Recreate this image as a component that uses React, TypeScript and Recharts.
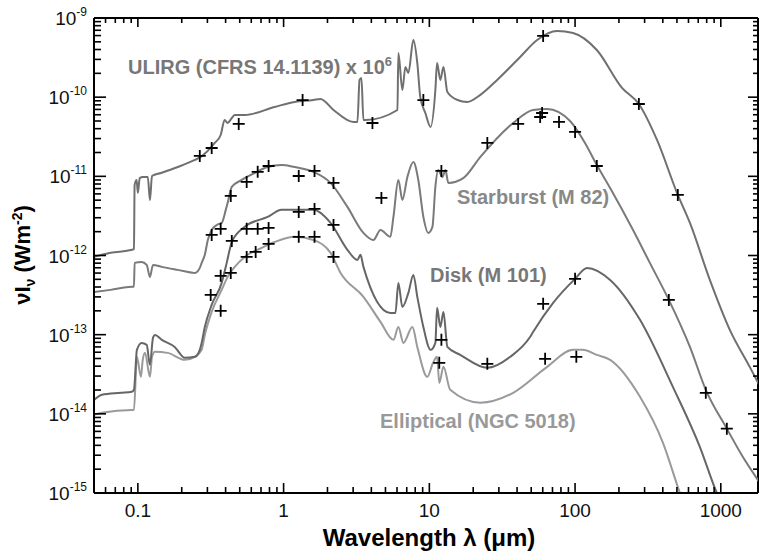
import { ComposedChart, Line, Scatter, XAxis, YAxis, ReferenceLine } from 'recharts'

const W = 760
const H = 554
const PLOT = { left: 94, top: 18, right: 758, bottom: 493 }
const FONT = '"Liberation Sans", Arial, Helvetica, sans-serif'
const AXIS_SIZE = 20

// wavelength (um), nu*I_nu (W m^-2)
const ulirgSed = [
  [0.05, 9.6e-13], [0.065, 1.08e-12], [0.091, 1.18e-12], [0.094, 1.21e-12], [0.095, 7.8e-12],
  [0.098, 9.0e-12], [0.1, 6.2e-12], [0.103, 9.5e-12], [0.108, 9.8e-12], [0.117, 9.8e-12],
  [0.121, 5.0e-12], [0.125, 1.01e-11], [0.144, 1.1e-11], [0.188, 1.31e-11], [0.246, 1.61e-11],
  [0.27, 1.76e-11], [0.337, 2.64e-11], [0.37, 3.33e-11], [0.394, 5.15e-11], [0.413, 4.72e-11],
  [0.441, 5.46e-11], [0.462, 5.95e-11], [0.541, 5.95e-11], [0.867, 7.52e-11], [1.19, 8.7e-11],
  [1.6, 9.2e-11], [1.79, 9.5e-11], [2.2, 6.89e-11], [3.01, 4.86e-11], [3.21, 4.86e-11],
  [3.32, 1.65e-10], [3.42, 1.75e-10], [3.53, 5.15e-11], [3.65, 5.15e-11], [6.04, 6.89e-11],
  [6.13, 3.61e-10], [6.53, 1.23e-10], [6.85, 2.41e-10], [7.18, 2.02e-10], [7.77, 5.27e-10],
  [8.27, 2.7e-10], [8.67, 1.0e-10], [9.39, 6.31e-11], [10.2, 4.21e-11], [11.0, 1.23e-10],
  [11.3, 2.7e-10], [11.9, 1.65e-10], [12.5, 2.41e-10], [13.3, 1.16e-10], [15.6, 9.2e-11],
  [18.2, 8.7e-11], [22.4, 1.07e-10], [29.2, 1.65e-10], [42, 3.22e-10], [54.9, 5.27e-10],
  [75.3, 6.86e-10], [96.9, 6.47e-10], [141, 3.94e-10], [210, 1.31e-10], [274, 8.2e-11],
  [365, 2.88e-11], [507, 5.82e-12], [614, 2.58e-12], [841, 4.92e-13], [1153, 1.15e-13],
  [1580, 3.92e-14], [2167, 1.3e-14],
]

const starburstSed = [
  [0.05, 3.47e-13], [0.065, 3.68e-13], [0.091, 4.02e-13], [0.094, 4.02e-13], [0.095, 8.07e-13],
  [0.106, 8.3e-13], [0.115, 7.6e-13], [0.121, 5.37e-13], [0.127, 7.6e-13], [0.146, 7.18e-13],
  [0.188, 6.58e-13], [0.246, 6.03e-13], [0.266, 6.97e-13], [0.274, 8.07e-13], [0.288, 1.02e-12],
  [0.302, 1.57e-12], [0.321, 2.1e-12], [0.348, 2.43e-12], [0.376, 2.58e-12], [0.401, 3.77e-12],
  [0.413, 4.62e-12], [0.441, 7.35e-12], [0.516, 9.0e-12], [0.633, 1.1e-11], [0.777, 1.31e-11],
  [0.969, 1.39e-11], [1.19, 1.31e-11], [1.6, 1.14e-11], [2.1, 8.26e-12], [2.74, 4.11e-12],
  [3.53, 1.93e-12], [4.13, 1.57e-12], [4.62, 2.1e-12], [5.4, 1.72e-12], [5.67, 3.07e-12],
  [6.13, 9.0e-12], [6.53, 5.04e-12], [7.07, 9.8e-12], [7.77, 1.52e-11], [8.4, 9.0e-12],
  [9.1, 3.07e-12], [9.84, 1.93e-12], [10.5, 2.3e-12], [11.0, 7.35e-12], [11.5, 1.2e-11],
  [12.3, 9.8e-12], [12.9, 1.2e-11], [13.5, 8.26e-12], [17.1, 9.5e-12], [22.4, 1.76e-11],
  [37.6, 4.72e-11], [51.5, 6.89e-11], [64.3, 7.1e-11], [92.4, 5.0e-11], [117, 2.64e-11],
  [141, 1.39e-11], [174, 7.14e-12], [250, 2.1e-12], [326, 8.07e-13], [440, 2.75e-13],
  [614, 7.0e-14], [789, 2.01e-14], [1100, 6.5e-15], [1415, 2.87e-15], [1850, 1.35e-15],
  [2344, 7.1e-16],
]

const diskSed = [
  [0.05, 1.5e-14], [0.0567, 1.74e-14], [0.0765, 1.84e-14], [0.091, 1.9e-14], [0.094, 2.01e-14],
  [0.0985, 6.43e-14], [0.106, 7.87e-14], [0.115, 7.43e-14], [0.121, 4.16e-14], [0.127, 9.1e-14],
  [0.131, 9.9e-14], [0.146, 8.6e-14], [0.179, 7.0e-14], [0.21, 5.1e-14], [0.246, 5.25e-14],
  [0.266, 6.43e-14], [0.274, 7.87e-14], [0.288, 1.25e-13], [0.321, 2.38e-13], [0.376, 4.51e-13],
  [0.407, 8.07e-13], [0.441, 1.48e-12], [0.541, 2.3e-12], [0.777, 3.07e-12], [0.969, 3.77e-12],
  [1.19, 3.77e-12], [1.6, 3.77e-12], [2.1, 2.58e-12], [2.74, 1.18e-12], [3.21, 8.8e-13],
  [3.37, 1.02e-12], [3.53, 7.18e-13], [5.4, 1.88e-13], [5.85, 1.88e-13], [6.13, 4.51e-13],
  [6.53, 2.24e-13], [7.18, 3.37e-13], [7.77, 5.69e-13], [8.27, 3.0e-13], [9.1, 1.25e-13],
  [10.2, 6.43e-14], [11.0, 7.87e-14], [11.3, 2.18e-13], [11.9, 1.25e-13], [12.5, 1.94e-13],
  [13.3, 7.0e-14], [16.3, 5.56e-14], [25, 3.81e-14], [35.9, 5.25e-14], [49.2, 9.4e-14],
  [51.5, 1.08e-13], [70.7, 2.52e-13], [100, 5.07e-13], [121, 6.97e-13], [174, 4.92e-13],
  [279, 1.54e-13], [469, 2.19e-14], [718, 3.83e-15], [939, 1.0e-15], [1153, 4.6e-16],
]

const ellipticalSed = [
  [0.05, 9.7e-15], [0.0567, 1.03e-14], [0.091, 1.12e-14], [0.094, 1.12e-14], [0.0985, 5.25e-14],
  [0.105, 2.93e-14], [0.108, 4.81e-14], [0.112, 5.89e-14], [0.121, 2.93e-14], [0.125, 5.25e-14],
  [0.131, 6.07e-14], [0.16, 5.89e-14], [0.21, 4.81e-14], [0.246, 5.25e-14], [0.274, 6.43e-14],
  [0.288, 9.9e-14], [0.321, 1.94e-13], [0.376, 3.68e-13], [0.413, 5.37e-13], [0.462, 7.18e-13],
  [0.541, 9.6e-13], [0.707, 1.25e-12], [0.867, 1.48e-12], [1.19, 1.72e-12], [1.6, 1.57e-12],
  [2.1, 1.08e-12], [2.46, 6.03e-13], [3.53, 3.0e-13], [4.62, 1.45e-13], [5.67, 8.6e-14],
  [6.13, 1.25e-13], [6.64, 7.87e-14], [7.65, 1.25e-13], [8.27, 7.0e-14], [9.69, 2.93e-14],
  [10.6, 4.41e-14], [11.3, 5.25e-14], [11.7, 2.46e-14], [12.5, 3.92e-14], [13.9, 2.01e-14],
  [22.4, 1.38e-14], [37.6, 1.84e-14], [64.3, 3.92e-14], [96.9, 6.43e-14], [113, 6.43e-14],
  [141, 5.56e-14], [174, 4.81e-14], [279, 1.64e-14], [401, 4.3e-15], [524, 1.0e-15],
  [614, 4.6e-16],
]

// photometry points (+)
const ulirgPhot = [
  [0.266, 1.81e-11], [0.321, 2.28e-11], [0.492, 4.59e-11], [1.35, 9.2e-11], [4.07, 4.72e-11],
  [9.1, 9.2e-11], [60.4, 5.93e-10], [274, 8.2e-11], [507, 5.82e-12],
]
const starburstPhot = [
  [0.321, 1.82e-12], [0.37, 2.17e-12], [0.434, 5.66e-12], [0.558, 8.5e-12], [0.664, 1.14e-11],
  [0.789, 1.35e-11], [1.27, 1.01e-11], [1.63, 1.17e-11], [2.2, 8.26e-12], [4.69, 5.34e-12],
  [12.1, 1.17e-11], [25, 2.64e-11], [40.7, 4.59e-11], [57.6, 5.62e-11], [59.4, 6.31e-11],
  [77.6, 4.86e-11], [100, 3.64e-11], [141, 1.35e-11], [440, 2.75e-13], [789, 1.84e-14],
  [1100, 6.5e-15],
]
const diskPhot = [
  [0.316, 3.18e-13], [0.37, 5.53e-13], [0.441, 1.53e-12], [0.558, 2.17e-12], [0.664, 2.17e-12],
  [0.789, 2.23e-12], [1.27, 3.55e-12], [1.63, 3.88e-12], [2.2, 2.43e-12], [12.1, 8.6e-14],
  [25, 4.28e-14], [60.4, 2.45e-13], [100, 5.07e-13],
]
const ellipticalPhot = [
  [0.37, 2.0e-13], [0.434, 6.03e-13], [0.558, 9.6e-13], [0.643, 1.11e-12], [0.789, 1.4e-12],
  [1.27, 1.72e-12], [1.63, 1.72e-12], [2.2, 9.6e-13], [11.7, 4.41e-14], [62.3, 4.95e-14],
  [102, 5.25e-14],
]

const xMajor = [0.1, 1, 10, 100, 1000]
const xLabels = ['0.1', '1', '10', '100', '1000']
const yMajor = [1e-15, 1e-14, 1e-13, 1e-12, 1e-11, 1e-10, 1e-9]
const yExponents = ['-15', '-14', '-13', '-12', '-11', '-10', '-9']

const minorsBetween = (majors: number[], lo: number, hi: number) => {
  const out: number[] = []
  for (const m of [majors[0] / 10, ...majors]) {
    for (let k = 2; k <= 9; k++) {
      const v = m * k
      if (v > lo && v < hi) out.push(v)
    }
  }
  return out
}

const X_DOMAIN = [0.05, 1800]
const Y_DOMAIN = [1e-15, 1e-9]
const xTicks = [...xMajor, ...minorsBetween(xMajor, X_DOMAIN[0], X_DOMAIN[1])]
const yTicks = [...yMajor, ...minorsBetween(yMajor.slice(1), Y_DOMAIN[0], Y_DOMAIN[1])]

const toRows = (pairs: number[][]) => pairs.map(([w, v]) => ({ w, v }))

function XTick(props: any) {
  const { x, payload } = props
  const i = xMajor.indexOf(payload.value)
  const major = i >= 0
  return (
    <g>
      <line x1={x} x2={x} y1={PLOT.bottom} y2={PLOT.bottom - (major ? 10 : 6)} stroke="#000" strokeWidth={1.6} />
      <line x1={x} x2={x} y1={PLOT.top} y2={PLOT.top + (major ? 9 : 5)} stroke="#000" strokeWidth={1.6} />
      {major && (
        <text x={x} y={PLOT.bottom + 24} textAnchor="middle" fontSize={19} fill="#111" fontFamily={FONT}>
          {xLabels[i]}
        </text>
      )}
    </g>
  )
}

function YTick(props: any) {
  const { y, payload } = props
  const i = yMajor.indexOf(payload.value)
  const major = i >= 0
  return (
    <g>
      <line x1={PLOT.left} x2={PLOT.left + (major ? 12 : 7)} y1={y} y2={y} stroke="#000" strokeWidth={1.6} />
      <line x1={PLOT.right} x2={PLOT.right - (major ? 10 : 5)} y1={y} y2={y} stroke="#000" strokeWidth={1.6} />
      {major && (
        <text x={PLOT.left - 7} y={y + 7} textAnchor="end" fontSize={19} fill="#111" fontFamily={FONT}>
          10<tspan dy={-9} fontSize={12}>{yExponents[i]}</tspan>
        </text>
      )}
    </g>
  )
}

function Cross(props: any) {
  const { cx, cy } = props
  if (cx == null || cy == null) return null
  return <path d={`M${cx - 6},${cy}H${cx + 6}M${cx},${cy - 6}V${cy + 6}`} stroke="#000" strokeWidth={1.8} fill="none" />
}

const series = [
  { name: 'Elliptical', line: ellipticalSed, phot: ellipticalPhot, color: '#9a9a9a' },
  { name: 'Disk', line: diskSed, phot: diskPhot, color: '#666666' },
  { name: 'Starburst', line: starburstSed, phot: starburstPhot, color: '#7a7a7a' },
  { name: 'ULIRG', line: ulirgSed, phot: ulirgPhot, color: '#707070' },
]

export default function App() {
  return (
    <div style={{ position: 'absolute', left: 0, top: 0, width: W, height: H, background: '#fff' }}>
      <ComposedChart
        width={W}
        height={H}
        margin={{
          top: PLOT.top,
          left: PLOT.left - AXIS_SIZE,
          right: W - PLOT.right,
          bottom: H - PLOT.bottom - AXIS_SIZE,
        }}
      >
        <XAxis
          dataKey="w"
          type="number"
          scale="log"
          domain={X_DOMAIN}
          allowDataOverflow
          ticks={xTicks}
          interval={0}
          tick={<XTick />}
          tickLine={false}
          height={AXIS_SIZE}
          axisLine={{ stroke: '#000', strokeWidth: 2 }}
        />
        <YAxis
          type="number"
          scale="log"
          domain={Y_DOMAIN}
          allowDataOverflow
          ticks={yTicks}
          interval={0}
          tick={<YTick />}
          tickLine={false}
          width={AXIS_SIZE}
          axisLine={{ stroke: '#000', strokeWidth: 2 }}
        />
        <ReferenceLine y={1e-9} stroke="#000" strokeWidth={2} ifOverflow="visible" />
        <ReferenceLine x={1800} stroke="#000" strokeWidth={2} ifOverflow="visible" />
        {series.map((s) => (
          <Line
            key={s.name}
            data={toRows(s.line)}
            dataKey="v"
            type="monotoneX"
            stroke={s.color}
            strokeWidth={2}
            dot={false}
            isAnimationActive={false}
          />
        ))}
        {series.map((s) => (
          <Scatter
            key={s.name + '-phot'}
            data={toRows(s.phot)}
            dataKey="v"
            shape={<Cross />}
            isAnimationActive={false}
          />
        ))}
      </ComposedChart>
      <svg
        width={W}
        height={H}
        style={{ position: 'absolute', left: 0, top: 0, pointerEvents: 'none' }}
        fontFamily={FONT}
        fontWeight="bold"
      >
        <text x={128} y={74} fontSize={20} fill="#777">
          ULIRG (CFRS 14.1139) x 10<tspan dy={-8} fontSize={13}>6</tspan>
        </text>
        <text x={457} y={204} fontSize={20} fill="#888">Starburst (M 82)</text>
        <text x={430} y={282} fontSize={20} fill="#777">Disk (M 101)</text>
        <text x={380} y={428} fontSize={20} fill="#999">Elliptical (NGC 5018)</text>
        <text x={429} y={546} textAnchor="middle" fontSize={24} fill="#000">
          Wavelength λ (μm)
        </text>
        <text transform="translate(30,255) rotate(-90)" textAnchor="middle" fontSize={22} fill="#000">
          νI<tspan dy={5} fontSize={14}>ν</tspan>
          <tspan dy={-5}> (Wm</tspan>
          <tspan dy={-8} fontSize={14}>-2</tspan>
          <tspan dy={8}>)</tspan>
        </text>
      </svg>
    </div>
  )
}
